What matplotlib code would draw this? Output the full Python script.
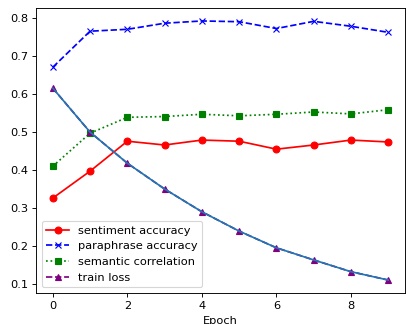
import numpy as np
import matplotlib
matplotlib.use("Agg")
import matplotlib.pyplot as plt

epochs = list(range(10))
sentiment_acc = [0.326, 0.397, 0.476, 0.466, 0.479, 0.476, 0.455, 0.466, 0.479, 0.474]
paraphrase_acc = [0.671, 0.766, 0.771, 0.787, 0.793, 0.791, 0.773, 0.792, 0.779, 0.763]
semantic_corr = [0.41, 0.497, 0.539, 0.541, 0.547, 0.543, 0.547, 0.553, 0.548, 0.559]
train_loss = [0.616, 0.50, 0.418, 0.35, 0.29, 0.239, 0.195, 0.163, 0.132, 0.11]

dpi = 82
fig = plt.figure(figsize=(407 / dpi, 324 / dpi), dpi=dpi)
ax = fig.add_axes([36 / 407, 31 / 324, 369 / 407, 285 / 324])

ax.plot(epochs, sentiment_acc, 'ro-', label='sentiment accuracy')
ax.plot(epochs, paraphrase_acc, 'bx--', label='paraphrase accuracy')
ax.plot(epochs, semantic_corr, 'gs:', label='semantic correlation')
ax.plot(epochs, train_loss, '^--', color='purple', label='train loss')
ax.plot(epochs, train_loss, color='C0')

ax.set_xlabel('Epoch')
ax.legend(loc='lower left')
fig.savefig('out.png', dpi=dpi)
